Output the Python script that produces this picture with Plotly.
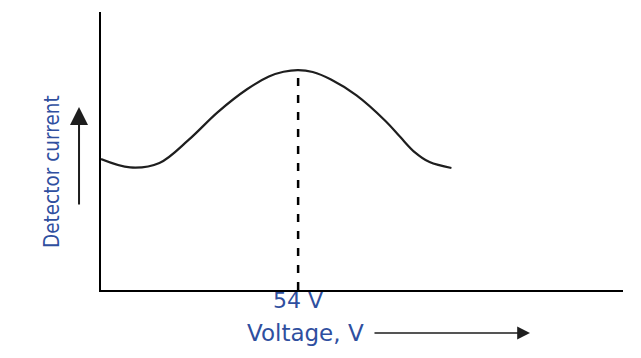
import plotly.graph_objects as go

# Data (voltage in V, detector current in arbitrary units)
voltage = [0, 8, 16, 24, 32, 40, 46, 50, 54, 58, 63, 70, 78, 82, 86, 90, 96]
current = [0.471, 0.441, 0.457, 0.540, 0.640, 0.722, 0.768, 0.785, 0.791, 0.784, 0.757,
           0.700, 0.607, 0.550, 0.495, 0.460, 0.439]
peak_voltage = 54
peak_label = "54 V"
x_title = "Voltage, V"
y_title = "Detector current"
x_range = [0, 143]
y_range = [0, 1]

blue = "#2f4f9f"

fig = go.Figure()
fig.add_trace(go.Scatter(x=voltage, y=current, mode="lines",
                         line=dict(color="#1e1e1e", width=2.2, shape="spline", smoothing=1.0),
                         hoverinfo="skip"))
fig.add_trace(go.Scatter(x=[peak_voltage, peak_voltage], y=[0, max(current)], mode="lines",
                         line=dict(color="black", width=2.5, dash="8px,9px"), hoverinfo="skip"))

fig.update_layout(
    width=641, height=358,
    margin=dict(l=101, r=18, t=12, b=68),
    paper_bgcolor="white", plot_bgcolor="white",
    showlegend=False,
    xaxis=dict(range=x_range, showline=True, linecolor="black", linewidth=2,
               showgrid=False, zeroline=False, showticklabels=False, ticks=""),
    yaxis=dict(range=y_range, showline=True, linecolor="black", linewidth=2,
               showgrid=False, zeroline=False, showticklabels=False, ticks=""),
    font=dict(family="DejaVu Sans, Verdana, sans-serif", color=blue),
)

fig.add_annotation(x=peak_voltage, xref="x", y=-0.036, yref="paper", text=peak_label,
                   showarrow=False, font=dict(size=22, color=blue), yanchor="middle")
fig.add_annotation(x=0.3927, xref="paper", y=-0.1547, yref="paper", text=x_title,
                   showarrow=False, font=dict(size=23, color=blue), yanchor="middle")
fig.add_annotation(x=-0.1207, xref="paper", y=0.428, yref="paper", text=y_title,
                   textangle=-90, showarrow=False,
                   font=dict(size=20.5, color=blue, family="DejaVu Sans Condensed, DejaVu Sans, sans-serif"))

# direction arrows
fig.add_annotation(x=-0.0421, xref="paper", y=0.658, yref="paper", text="",
                   showarrow=True, ax=0, ay=99, arrowhead=2, arrowsize=1.8,
                   arrowwidth=2, arrowcolor="#1e1e1e", standoff=0)
fig.add_annotation(x=0.8218, xref="paper", y=-0.1547, yref="paper", text="",
                   showarrow=True, ax=-157, ay=0, arrowhead=2, arrowsize=1.6,
                   arrowwidth=1.6, arrowcolor="#1e1e1e", standoff=0)

fig.write_html("out.html", config={"displayModeBar": False})
